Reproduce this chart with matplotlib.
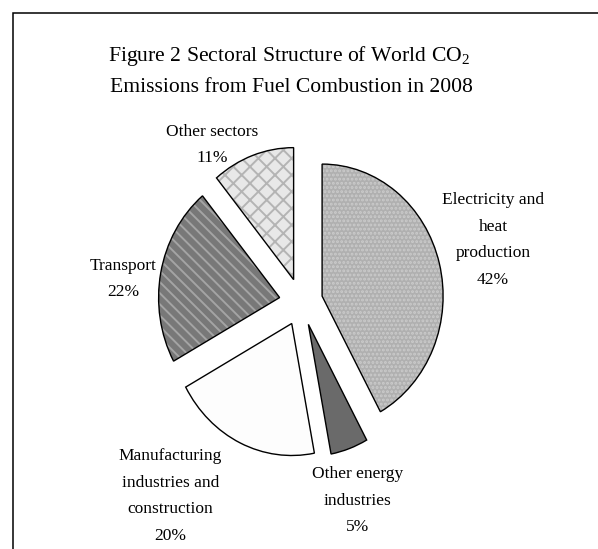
import numpy as np
import matplotlib
matplotlib.use('Agg')
import matplotlib.pyplot as plt
from matplotlib.patches import Wedge, Rectangle

plt.rcParams['font.family'] = ['Liberation Serif', 'DejaVu Serif']
plt.rcParams['mathtext.fontset'] = 'custom'
plt.rcParams['mathtext.rm'] = 'Liberation Serif'
plt.rcParams['hatch.linewidth'] = 1.4

# data
sectors = ['Electricity and\nheat\nproduction', 'Other energy\nindustries',
           'Manufacturing\nindustries and\nconstruction', 'Transport', 'Other sectors']
shares = [42, 5, 20, 22, 11]

# look of each slice
fills = ['#b0b0b0', '#6a6a6a', '#fdfdfd', '#787878', '#e8e8e8']
hatches = ['....', None, None, '\\\\\\', 'xx']
hatch_cols = ['#cbcbcb', '#6a6a6a', '#fdfdfd', '#a4a4a4', '#b4b4b4']
label_pos = [(1.587, 0.47), (0.471, -1.505), (-1.079, -1.47), (-1.471, 0.174), (-0.731, 1.19)]

W, H = 598, 549
fig = plt.figure(figsize=(W/100, H/100), dpi=100)

# pie centre at (301,302) px, radius 121 px wide and 132 px tall
cx, cy, rx, ry = 301, 302, 121, 132
xl, yl = 2.2, 1.8
ax = fig.add_axes([(cx - xl*rx)/W, (H - cy - yl*ry)/H, 2*xl*rx/W, 2*yl*ry/H])

wedges, _ = ax.pie(shares, startangle=90, counterclock=False,
                   explode=[0.18]*5, colors=fills,
                   wedgeprops=dict(linewidth=0))
for w, h, hc in zip(wedges, hatches, hatch_cols):
    if h:
        w.set_hatch(h)
    w.set_edgecolor(hc)
    # black outline on top
    ax.add_patch(Wedge(w.center, w.r, w.theta1, w.theta2, facecolor='none',
                       edgecolor='black', linewidth=1.0, zorder=3))

ax.set_aspect('auto')
ax.set_xlim(-xl, xl)
ax.set_ylim(-yl, yl)
ax.axis('off')

for name, val, (lx, ly) in zip(sectors, shares, label_pos):
    ax.text(lx, ly, f'{name}\n{val}%', ha='center', va='center',
            fontsize=12.5, linespacing=1.87)

fig.text(289/W, 1 - 56/H, r'Figure 2 Sectoral Structure of World CO$_\mathrm{2}$',
         ha='center', va='center', fontsize=15.6)
fig.text(291/W, 1 - 87/H, 'Emissions from Fuel Combustion in 2008',
         ha='center', va='center', fontsize=15.6)

# frame of the original figure box (cut off at right and bottom)
fig.add_artist(Rectangle((12.5/W, -0.5), 2, 1.5 - 12.5/H, transform=fig.transFigure,
                         fill=False, edgecolor='black', linewidth=1.1))

fig.savefig('out.png', dpi=100)
